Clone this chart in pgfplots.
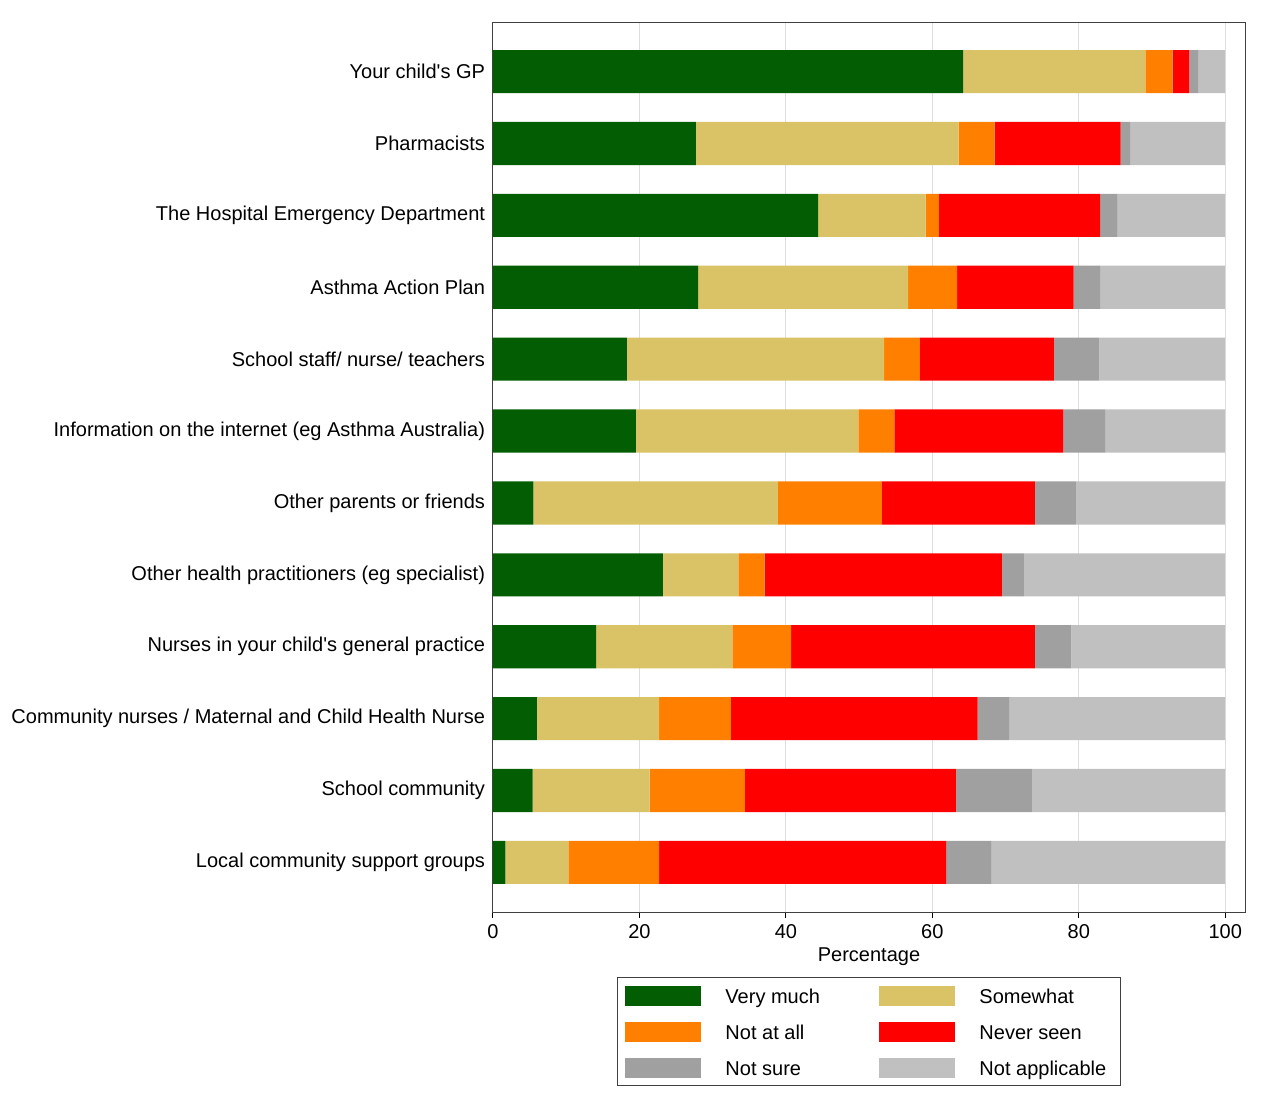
\documentclass[border=0pt]{standalone}
\usepackage{fontspec}
\setmainfont{Liberation Sans}
\usepackage{pgfplots}
\pgfplotsset{compat=1.18}
\definecolor{cVM}{RGB}{3,94,3}
\definecolor{cSW}{RGB}{217,195,102}
\definecolor{cNA}{RGB}{255,128,0}
\definecolor{cNS}{RGB}{255,0,0}
\definecolor{cSU}{RGB}{160,160,160}
\definecolor{cAP}{RGB}{192,192,192}
\pgfplotsset{myleg/.style={legend image code/.code={\fill[##1,draw=none] (0pt,-10pt) rectangle (76pt,10pt);}}}
\begin{document}
\fontsize{20}{24}\selectfont
\begin{tikzpicture}
\begin{axis}[name=ax, scale only axis, width=752pt, height=890pt,
  xbar stacked, bar width=0.6, y dir=reverse,
  ymin=0.31, ymax=12.69, xmin=0, xmax=102.7,
  ytick={1,...,12},
  yticklabels={Your child\textquotesingle s GP, Pharmacists, The Hospital Emergency Department, Asthma Action Plan, School staff/ nurse/ teachers, Information on the internet (eg Asthma Australia), Other parents or friends, Other health practitioners (eg specialist), Nurses in your child\textquotesingle s general practice, Community nurses / Maternal and Child Health Nurse, School community, Local community support groups},
  xtick={0,20,40,60,80,100},
  xmajorgrids, grid style={black!13, line width=1pt},
  axis line style={black!75, line width=1pt},
  major tick length=6pt, tick align=outside, tick pos=left,
  ytick style={draw=none}, xtick style={black, line width=1pt},
  tick label style={font=\fontsize{20}{24}\selectfont},
  yticklabel style={inner sep=1.8pt},
  /pgf/number format/assume math mode=true,
  xlabel={Percentage}, xlabel style={font=\fontsize{20}{24}\selectfont, yshift=5pt},
  legend columns=2,
  legend style={at={(0.5,0)}, anchor=north, yshift=-65pt, draw=black!75, line width=1pt,
    inner xsep=8pt, inner ysep=8pt, column sep=0pt, row sep=16pt,
    font=\fontsize{20}{24}\selectfont,
    nodes={inner sep=0pt, text height=18pt, text depth=2pt, anchor=west}},
]
\addplot[fill=cVM, draw=none, myleg] coordinates {(64.2,1) (27.7,2) (44.4,3) (28.0,4) (18.3,5) (19.5,6) (5.5,7) (23.2,8) (14.1,9) (6.0,10) (5.4,11) (1.7,12)};
\addlegendentry{\hspace{24pt}\makebox[154pt][l]{Very much}}
\addplot[fill=cSW, draw=none, myleg] coordinates {(24.9,1) (35.9,2) (14.7,3) (28.7,4) (35.1,5) (30.4,6) (33.4,7) (10.3,8) (18.6,9) (16.7,10) (16.0,11) (8.6,12)};
\addlegendentry{\hspace{24pt}\makebox[133pt][l]{Somewhat}}
\addplot[fill=cNA, draw=none, myleg] coordinates {(3.7,1) (4.9,2) (1.8,3) (6.7,4) (4.9,5) (4.9,6) (14.2,7) (3.6,8) (8.0,9) (9.8,10) (13.0,11) (12.4,12)};
\addlegendentry{\hspace{24pt}\makebox[154pt][l]{Not at all}}
\addplot[fill=cNS, draw=none, myleg] coordinates {(2.3,1) (17.2,2) (22.0,3) (15.9,4) (18.3,5) (23.1,6) (20.9,7) (32.4,8) (33.3,9) (33.7,10) (28.8,11) (39.2,12)};
\addlegendentry{\hspace{24pt}\makebox[133pt][l]{Never seen}}
\addplot[fill=cSU, draw=none, myleg] coordinates {(1.2,1) (1.3,2) (2.4,3) (3.6,4) (6.2,5) (5.7,6) (5.6,7) (3.0,8) (5.0,9) (4.3,10) (10.4,11) (6.2,12)};
\addlegendentry{\hspace{24pt}\makebox[154pt][l]{Not sure}}
\addplot[fill=cAP, draw=none, myleg] coordinates {(3.7,1) (13.0,2) (14.7,3) (17.1,4) (17.2,5) (16.4,6) (20.4,7) (27.5,8) (21.0,9) (29.5,10) (26.4,11) (31.9,12)};
\addlegendentry{\hspace{24pt}\makebox[133pt][l]{Not applicable}}
\end{axis}
\path (ax.south west) ++(-493pt,-204pt) coordinate (bl);
\path (ax.north east) ++(29pt,22pt) coordinate (tr);
\pgfresetboundingbox
\useasboundingbox (bl) rectangle (tr);
\end{tikzpicture}
\end{document}
